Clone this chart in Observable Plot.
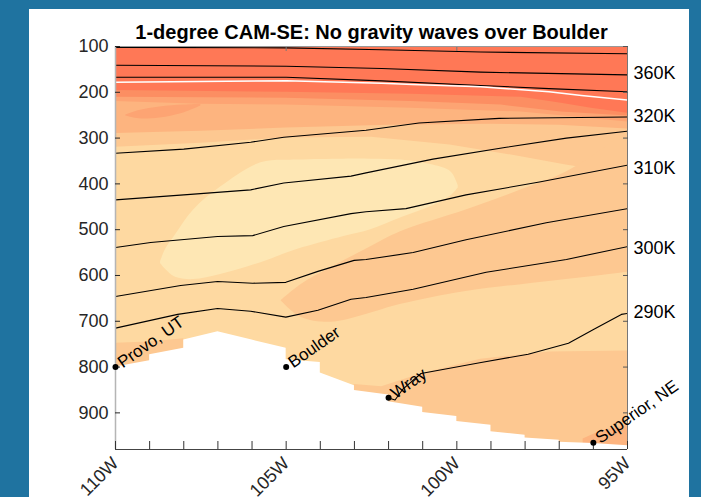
<!DOCTYPE html>
<html>
<head>
<meta charset="utf-8">
<script src="https://cdn.jsdelivr.net/npm/d3@7"></script>
<script src="https://cdn.jsdelivr.net/npm/@observablehq/plot@0.6"></script>
<style>
  html, body { margin: 0; padding: 0; width: 701px; height: 497px; overflow: hidden; background: #1f73a0; }
  #panel { position: absolute; left: 29px; top: 9px; width: 660px; height: 488px; background: #fff; }
</style>
</head>
<body>
<div id="panel"></div>
<script>
// ---- axes ----
const lonTicks = [110, 105, 100, 95];
const lonMinor = [110, 109, 108, 107, 106, 105, 104, 103, 102, 101, 100, 99, 98, 97, 96, 95];
const lonTopTicks = [105, 100];
const pTicks = [100, 200, 300, 400, 500, 600, 700, 800, 900];
const pTop = 100;
const pBottom = 980;

// ---- shaded field, light to dark ----
const fillColors = ["#fee7b4", "#fed9a1", "#fdc891", "#fdb47f", "#fda473", "#fc8e62", "#ff7856"];

// bands hanging from the top: [lon, lower edge p]
const bandC2Top = [[110, 320], [107.5, 311], [105, 300], [102.5, 298], [100.2, 315], [98.4, 337], [96.8, 359], [95, 380]];
const bandC3 = [[110, 290], [107.5, 285], [105, 278], [102, 272], [99, 270], [97, 272], [95, 280]];
const bandC4 = [[110, 220], [107.5, 226], [105, 228], [101.34, 235], [98.11, 243], [95, 265]];
const bandC5 = [[110, 211], [105, 213], [101.34, 220], [98.7, 228], [96.94, 243], [95, 252]];
const bandC6 = [[110, 196], [105, 200], [101.34, 204], [98.11, 211], [96.94, 224], [96.06, 235], [95, 246]];

// enclosed patches: [lon, upper p, lower p]
const tongueC4 = [[109.7, 250, 252], [109.3, 240, 258], [108.7, 232, 256], [108, 228, 245], [107.5, 226, 230]];
const tongueC2 = [[105.15, 655, 655], [104.57, 620, 691], [103.69, 583, 702], [102.66, 543, 685], [101.63, 504, 663],
                  [99.73, 457, 635], [98.11, 413, 620], [96.79, 374, 609], [95.76, 326, 600], [95, 283, 593]];
const coreC0 = [[108.68, 570, 574], [108.53, 543, 587], [108.24, 511, 604], [107.71, 457, 609], [106.92, 407, 598],
                [105.74, 354, 572], [104.66, 348, 543], [103.31, 346, 515], [102.52, 346, 500], [101.63, 348, 474],
                [100.70, 359, 448], [100.17, 374, 426], [99.96, 404, 409]];

// bands resting on the ground: [lon, upper edge p]
const groundC2 = [[103.0, 838], [102.2, 843], [101.05, 815], [99.3, 783], [97.3, 767], [95, 765]];
const provoC2 = [[110, 748], [109, 745], [108, 738]];
const superiorC3 = [[96.3, 957], [95.76, 939], [95, 928]];

// surface pressure along the section
const terrain = [[110, 800], [109, 786], [109, 773], [108, 759], [108, 741], [107, 723], [106, 741], [105, 759],
                 [105, 784], [104, 790], [104, 813], [103, 841], [103, 851], [102, 861], [102, 876], [101, 888],
                 [101, 899], [100, 908], [100, 919], [99, 927], [99, 941], [98, 949], [98, 955], [97, 960],
                 [97, 964], [96, 967], [95, 972]];

// ---- isentropes: [lon, p] ----
const th380 = [[110, 102], [105, 103], [102.2, 107], [99.3, 112], [95, 116]];
const th360 = [[110, 141], [105, 143], [102.2, 148], [99.3, 156], [95, 162]];
const th340 = [[110, 167], [105, 167], [102.2, 175], [99.3, 185], [97.3, 192], [95, 199]];
const th320 = [[110, 333], [108, 324], [106.04, 309], [105.07, 298], [102.66, 283], [101.11, 267], [98.76, 257], [95, 254]];
const th315 = [[110, 435], [108, 424], [106.04, 413], [105.07, 398], [103.1, 383], [102.66, 376], [100.7, 346], [98.55, 320], [96.79, 300], [95, 285]];
const th310 = [[110, 539], [108.97, 528], [107.01, 515], [105.98, 513], [105.07, 493], [103.1, 465], [102.66, 461], [101.49, 454], [99.73, 424], [97.58, 396], [95, 359]];
const th305 = [[110, 646], [108.09, 622], [107.01, 613], [105.98, 617], [105.01, 615], [104.07, 591], [103.01, 567], [102.66, 565], [101.28, 550], [99.73, 522], [97.38, 485], [95, 454]];
const th300 = [[110, 715], [108.18, 685], [107.01, 672], [106.04, 678], [105.01, 691], [104.07, 676], [103.1, 652], [102.66, 648], [101.28, 630], [99.14, 593], [96.79, 565], [95, 537]];
const th290 = [[102.02, 867], [101.81, 872], [101.58, 848], [101.05, 814], [99.29, 790], [97.91, 772], [96.73, 748], [95.97, 717], [95.18, 685], [95, 683]];
const tropopause = [[110, 178], [105, 175], [102.2, 180], [101.3, 183], [99.3, 188], [97.3, 199], [96.35, 207], [95, 217]];

// right-hand isentrope labels
const thetaLabels = ["360K", "320K", "310K", "300K", "290K"];
const thetaLabelP = [159, 252, 365, 541, 680];

// stations
const stationNames = ["Provo, UT", "Boulder", "Wray", "Superior, NE"];
const stationLon = [110, 105, 102, 96];
const stationP = [800, 800, 867, 965];

const titleText = "1-degree CAM-SE: No gravity waves over Boulder";

// ---- build ----
const getLon = d => d[0];
const atTop = () => pTop;
const atBottom = () => pBottom;

const hanging = (data, fill) => Plot.areaY(data, {x: getLon, y1: atTop, y2: d => d[1], fill, clip: true});
const patch = (data, fill, curve = "linear") => Plot.areaY(data, {x: getLon, y1: d => d[1], y2: d => d[2], fill, curve, clip: true});
const resting = (data, fill) => Plot.areaY(data, {x: getLon, y1: d => d[1], y2: atBottom, fill, clip: true});
const isentrope = (data) => Plot.line(data, {x: getLon, y: d => d[1], stroke: "#000", strokeWidth: 1.1, clip: true});

const stations = stationNames.map((name, i) => ({name, lon: stationLon[i], p: stationP[i]}));
const labels = thetaLabels.map((t, i) => ({t, p: thetaLabelP[i]}));

const chart = Plot.plot({
  width: 660,
  height: 488,
  marginLeft: 86,
  marginRight: 62,
  marginTop: 37,
  marginBottom: 48,
  x: {domain: [110, 95]},
  y: {domain: [pBottom, pTop]},
  style: {fontFamily: "'Liberation Sans', Arial, Helvetica, sans-serif", background: "transparent", overflow: "visible"},
  marks: [
    Plot.frame({fill: fillColors[1], stroke: null}),
    hanging(bandC2Top, fillColors[2]),
    patch(tongueC2, fillColors[2], "catmull-rom"),
    resting(groundC2, fillColors[2]),
    resting(provoC2, fillColors[2]),
    resting(superiorC3, fillColors[3]),
    patch(coreC0, fillColors[0], "catmull-rom"),
    hanging(bandC3, fillColors[3]),
    hanging(bandC4, fillColors[4]),
    patch(tongueC4, fillColors[4], "catmull-rom"),
    hanging(bandC5, fillColors[5]),
    hanging(bandC6, fillColors[6]),
    Plot.areaY(terrain, {x: getLon, y1: d => d[1], y2: atBottom, fill: "#fff", clip: true}),
    isentrope(th380), isentrope(th360), isentrope(th340), isentrope(th320), isentrope(th315),
    isentrope(th310), isentrope(th305), isentrope(th300), isentrope(th290),
    Plot.line(tropopause, {x: getLon, y: d => d[1], stroke: "#fff", strokeWidth: 1.5, clip: true}),
    // box
    Plot.ruleY([pTop], {stroke: "#999"}),
    Plot.ruleX([110], {stroke: "#b5b5b5", strokeWidth: 1.5}),
    Plot.ruleX([95], {stroke: "#777"}),
    Plot.ruleY([pBottom], {stroke: "#444"}),
    // axes
    Plot.axisY(pTicks, {anchor: "left", tickSize: -5, tickPadding: 12, fontSize: 18, color: "#262626", label: null}),
    Plot.axisY(pTicks, {anchor: "right", tickSize: -5, tickFormat: () => "", color: "#555", label: null}),
    Plot.axisX(lonMinor, {anchor: "bottom", tickSize: -8, tickFormat: () => "", color: "#333", label: null}),
    Plot.axisX(lonTopTicks, {anchor: "top", tickSize: -4, tickFormat: () => "", color: "#777", label: null}),
    Plot.axisX(lonTicks, {anchor: "bottom", tickSize: 0, tickPadding: 11, tickRotate: -45, fontSize: 18,
                          tickFormat: d => d + "W", color: "#262626", label: null}),
    // stations
    Plot.dot(stations, {x: "lon", y: "p", r: 3, fill: "#000"}),
    Plot.text(stations, {x: "lon", y: "p", text: "name", rotate: -35, textAnchor: "start", dx: 4, dy: -3,
                         fontSize: 17, fill: "#000"}),
    // isentrope labels
    Plot.text(labels, {x: () => 95, y: "p", text: "t", textAnchor: "start", dx: 6, fontSize: 18, fill: "#000"}),
    // title
    Plot.text([titleText], {frameAnchor: "top", lineAnchor: "middle", dy: -14, text: d => d, fontSize: 20,
                            fontWeight: "bold", fill: "#000"})
  ]
});

document.getElementById("panel").appendChild(chart);
</script>
</body>
</html>
